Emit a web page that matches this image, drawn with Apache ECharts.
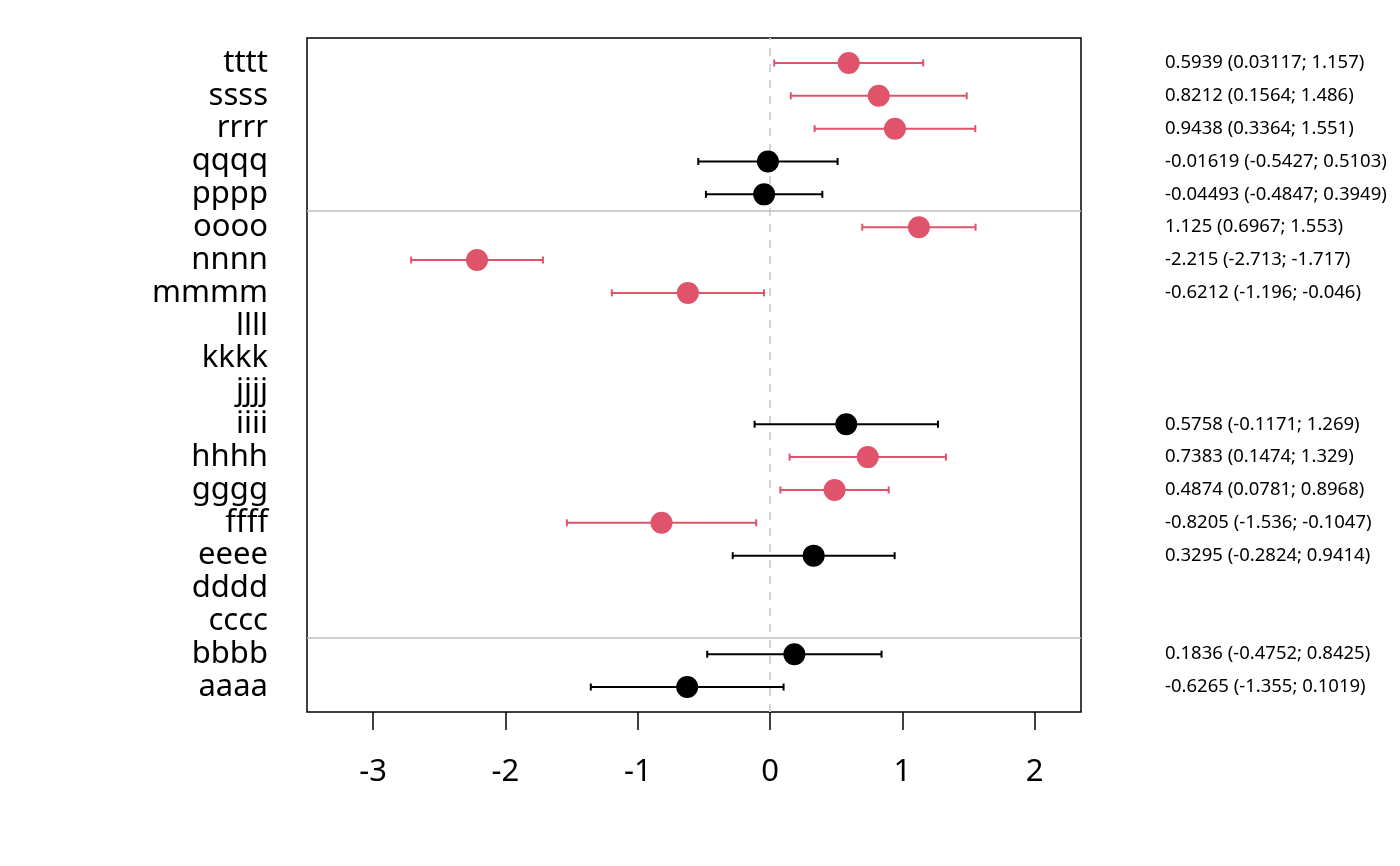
<!DOCTYPE html>
<html>
<head>
<meta charset="utf-8">
<script src="https://cdn.jsdelivr.net/npm/echarts@6/dist/echarts.min.js"></script>
<style>
  html, body { margin: 0; padding: 0; background: #fff; }
  #chart { width: 1400px; height: 866px; }
</style>
</head>
<body>
<div id="chart"></div>
<script>
// rows from top to bottom
var names = ['tttt', 'ssss', 'rrrr', 'qqqq', 'pppp', 'oooo', 'nnnn', 'mmmm', 'llll', 'kkkk',
  'jjjj', 'iiii', 'hhhh', 'gggg', 'ffff', 'eeee', 'dddd', 'cccc', 'bbbb', 'aaaa'];
var estimate = [0.5939, 0.8212, 0.9438, -0.01619, -0.04493, 1.125, -2.215, -0.6212, null, null,
  null, 0.5758, 0.7383, 0.4874, -0.8205, 0.3295, null, null, 0.1836, -0.6265];
var lower = [0.03117, 0.1564, 0.3364, -0.5427, -0.4847, 0.6967, -2.713, -1.196, null, null,
  null, -0.1171, 0.1474, 0.0781, -1.536, -0.2824, null, null, -0.4752, -1.355];
var upper = [1.157, 1.486, 1.551, 0.5103, 0.3949, 1.553, -1.717, -0.046, null, null,
  null, 1.269, 1.329, 0.8968, -0.1047, 0.9414, null, null, 0.8425, 0.1019];
var xTicks = [-3, -2, -1, 0, 1, 2];
var groupBreaks = [15.5, 2.5];   // y positions of the grey separators

var RED = '#DF536B';
var n = names.length;
var yPos = names.map(function (d, i) { return n - i; });   // tttt = 20 ... aaaa = 1

var rows = [];
for (var i = 0; i < n; i++) {
  if (estimate[i] === null) continue;
  var sig = lower[i] > 0 || upper[i] < 0 ? 1 : 0;
  rows.push([estimate[i], lower[i], upper[i], yPos[i], sig,
    estimate[i] + ' (' + lower[i] + '; ' + upper[i] + ')']);
}

var chart = echarts.init(document.getElementById('chart'));

function renderInterval(params, api) {
  var est = api.coord([api.value(0), api.value(3)]);
  var lo = api.coord([api.value(1), api.value(3)]);
  var hi = api.coord([api.value(2), api.value(3)]);
  var col = api.value(4) ? RED : '#000';
  var cap = 3.5;
  var line = { stroke: col, lineWidth: 2 };
  return {
    type: 'group',
    children: [
      { type: 'line', shape: { x1: lo[0], y1: lo[1], x2: hi[0], y2: hi[1] }, style: line },
      { type: 'line', shape: { x1: lo[0], y1: lo[1] - cap, x2: lo[0], y2: lo[1] + cap }, style: line },
      { type: 'line', shape: { x1: hi[0], y1: hi[1] - cap, x2: hi[0], y2: hi[1] + cap }, style: line },
      { type: 'circle', shape: { cx: est[0], cy: est[1], r: 11 }, style: { fill: col } }
    ]
  };
}

function renderText(params, api) {
  var p = api.coord([0, api.value(3)]);
  return {
    type: 'text',
    x: 1165,
    y: p[1],
    style: {
      text: rows[params.dataIndex][5],
      fontFamily: 'Noto Sans',
      fontSize: 18.5,
      fill: '#000',
      verticalAlign: 'middle',
      align: 'left'
    }
  };
}

chart.setOption({
  backgroundColor: '#fff',
  animation: false,
  grid: {
    left: 307, top: 38, width: 774, height: 674,
    show: true, borderColor: '#000', borderWidth: 1.5, backgroundColor: 'transparent'
  },
  xAxis: {
    type: 'value',
    min: -3.5,
    max: 2.35,
    splitLine: { show: false },
    axisLine: { show: false },
    axisTick: { show: true, customValues: xTicks, length: 18, lineStyle: { color: '#000', width: 1.5 } },
    axisLabel: {
      customValues: xTicks, margin: 45, color: '#000',
      fontFamily: 'Noto Sans', fontSize: 31
    }
  },
  yAxis: {
    type: 'value',
    min: 0.24,
    max: 20.76,
    splitLine: { show: false },
    axisLine: { show: false },
    axisTick: { show: false },
    axisLabel: {
      customValues: yPos, margin: 39, color: '#000',
      fontFamily: 'Noto Sans', fontSize: 31,
      formatter: function (v) { return names[n - Math.round(v)]; }
    }
  },
  series: [
    {
      // reference lines, kept under the intervals
      type: 'line',
      data: [],
      z: 1,
      markLine: {
        silent: true,
        z: 1,
        symbol: 'none',
        label: { show: false },
        animation: false,
        data: [
          { xAxis: 0, lineStyle: { color: '#D3D3D3', type: [8, 8], width: 2 } }
        ].concat(groupBreaks.map(function (b) {
          return { yAxis: b, lineStyle: { color: '#BEBEBE', type: 'solid', width: 1.5 } };
        }))
      }
    },
    {
      type: 'custom',
      data: rows,
      renderItem: renderInterval,
      z: 3
    },
    {
      type: 'custom',
      data: rows,
      renderItem: renderText,
      clip: false
    }
  ]
});
</script>
</body>
</html>
